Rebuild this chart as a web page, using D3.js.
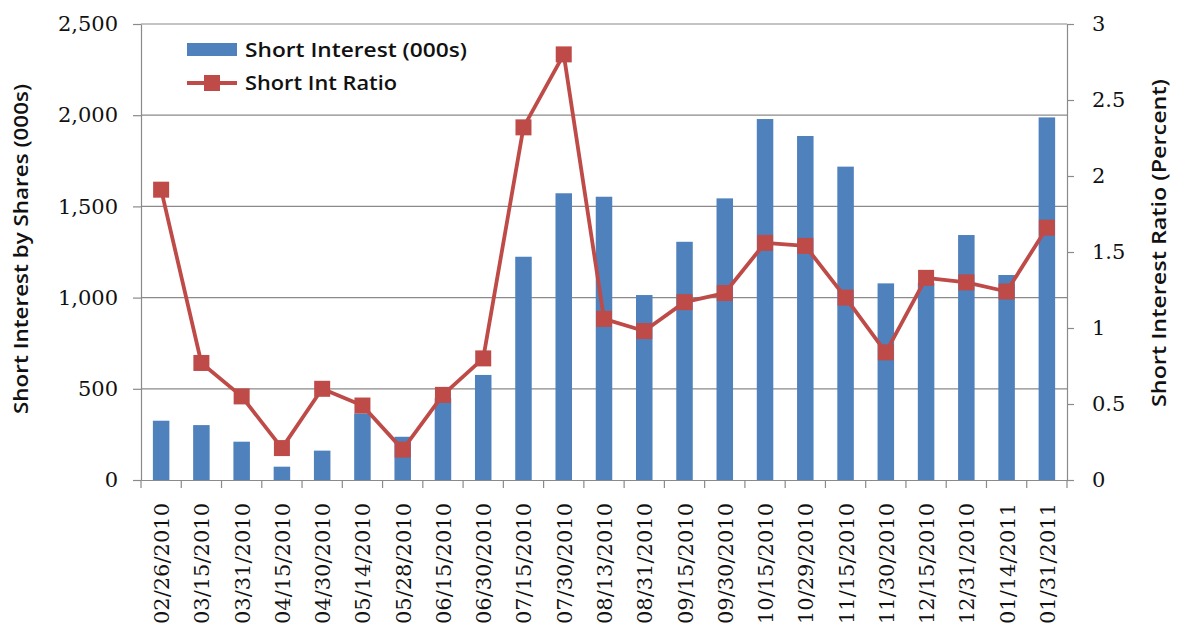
<!DOCTYPE html>
<html>
<head>
<meta charset="utf-8">
<script src="https://cdn.jsdelivr.net/npm/d3@7"></script>
<style>
  html, body { margin: 0; padding: 0; background: #fff; }
  svg { display: block; }
</style>
</head>
<body>
<svg id="chart" width="1177" height="634"></svg>
<script>
// Reporting dates (settlement dates)
const dates = [
  "02/26/2010", "03/15/2010", "03/31/2010", "04/15/2010", "04/30/2010",
  "05/14/2010", "05/28/2010", "06/15/2010", "06/30/2010", "07/15/2010",
  "07/30/2010", "08/13/2010", "08/31/2010", "09/15/2010", "09/30/2010",
  "10/15/2010", "10/29/2010", "11/15/2010", "11/30/2010", "12/15/2010",
  "12/31/2010", "01/14/2011", "01/31/2011"
];

// Short interest, thousands of shares
const shortInterest = [
  325, 301, 210, 73, 161,
  365, 237, 450, 576, 1224,
  1572, 1553, 1014, 1306, 1544,
  1979, 1886, 1718, 1078, 1080,
  1343, 1124, 1988
];

// Short interest ratio, percent
const shortRatio = [
  1.91, 0.77, 0.55, 0.21, 0.60,
  0.49, 0.20, 0.56, 0.80, 2.32,
  2.80, 1.06, 0.98, 1.17, 1.23,
  1.56, 1.54, 1.20, 0.84, 1.33,
  1.30, 1.24, 1.66
];

const leftTicks = [0, 500, 1000, 1500, 2000, 2500];
const rightTicks = [0, 0.5, 1, 1.5, 2, 2.5, 3];

const seriesNames = ["Short Interest (000s)", "Short Int Ratio"];
const axisTitles = ["Short Interest by Shares (000s)", "Short Interest Ratio (Percent)"];

const BLUE = "#4F81BD";
const RED = "#BE4B48";
const GRID = "#8a8a8a";
const tickFont = "'DejaVu Serif', 'Liberation Serif', serif";
const titleFont = "'Open Sans', 'Noto Sans', sans-serif";

const svg = d3.select("#chart");
const plot = { left: 141, right: 1067, top: 24, bottom: 480 };

const x = d3.scaleBand().domain(dates).range([plot.left, plot.right]).padding(0);
const yL = d3.scaleLinear().domain([0, 2500]).range([plot.bottom, plot.top]);
const yR = d3.scaleLinear().domain([0, 3]).range([plot.bottom, plot.top]);
const barW = x.bandwidth() * 0.41;
const cx = d => x(d) + x.bandwidth() / 2;

// Horizontal gridlines
svg.append("g").selectAll("line")
  .data(leftTicks.filter(v => v > 0))
  .join("line")
  .attr("x1", plot.left).attr("x2", plot.right)
  .attr("y1", d => yL(d)).attr("y2", d => yL(d))
  .attr("stroke", GRID).attr("stroke-width", 1.2);

// Bars
svg.append("g").selectAll("rect")
  .data(dates.map((d, i) => ({ d, v: shortInterest[i] })))
  .join("rect")
  .attr("x", p => cx(p.d) - barW / 2)
  .attr("width", barW)
  .attr("y", p => yL(p.v))
  .attr("height", p => yL(0) - yL(p.v))
  .attr("fill", BLUE);

function styleAxis(g) {
  g.select(".domain").attr("stroke", GRID).attr("stroke-width", 1.2);
  g.selectAll(".tick line").attr("stroke", GRID).attr("stroke-width", 1.2);
  g.selectAll(".tick text").attr("fill", "#111")
    .style("font-family", tickFont).style("font-size", "21px");
}

// Left axis
const gL = svg.append("g")
  .attr("transform", `translate(${plot.left},0)`)
  .call(d3.axisLeft(yL).tickValues(leftTicks).tickSize(8).tickPadding(15)
    .tickFormat(d3.format(",")).tickSizeOuter(0));
styleAxis(gL);

// Right axis
const gR = svg.append("g")
  .attr("transform", `translate(${plot.right},0)`)
  .call(d3.axisRight(yR).tickValues(rightTicks).tickSize(7).tickPadding(18)
    .tickFormat(d3.format("")).tickSizeOuter(0));
styleAxis(gR);

// Bottom axis: tick marks on category boundaries, labels rotated
const gB = svg.append("g")
  .attr("transform", `translate(0,${plot.bottom})`)
  .call(d3.axisBottom(x).tickSize(0).tickSizeOuter(0).tickPadding(0));
styleAxis(gB);
gB.selectAll(".tick text")
  .attr("transform", "rotate(-90)")
  .attr("text-anchor", "end")
  .attr("x", -23)
  .attr("y", 0)
  .attr("dy", "0.38em")
  .attr("dx", 0);
gB.selectAll(".boundary")
  .data(dates.concat([null]))
  .join("line")
  .attr("class", "boundary")
  .attr("x1", (d, i) => plot.left + i * x.step())
  .attr("x2", (d, i) => plot.left + i * x.step())
  .attr("y1", 0).attr("y2", 8)
  .attr("stroke", GRID).attr("stroke-width", 1.2);

// Ratio line with square markers
const line = d3.line()
  .x((v, i) => cx(dates[i]))
  .y(v => yR(v));
svg.append("path")
  .datum(shortRatio)
  .attr("d", line)
  .attr("fill", "none")
  .attr("stroke", RED)
  .attr("stroke-width", 3.8)
  .attr("stroke-linejoin", "round");

const mk = 16;
svg.append("g").selectAll("rect")
  .data(shortRatio)
  .join("rect")
  .attr("x", (v, i) => cx(dates[i]) - mk / 2)
  .attr("y", v => yR(v) - mk / 2)
  .attr("width", mk).attr("height", mk)
  .attr("fill", RED);

// Fit a text element to a target length
function fit(sel, len) {
  sel.attr("textLength", len).attr("lengthAdjust", "spacingAndGlyphs");
}

// Axis titles
const tl = svg.append("text")
  .attr("transform", `translate(28,249) rotate(-90)`)
  .attr("text-anchor", "middle")
  .style("font-family", titleFont).style("font-size", "19px").style("font-weight", 600)
  .attr("fill", "#111")
  .text(axisTitles[0]);
fit(tl, 330);

const tr = svg.append("text")
  .attr("transform", `translate(1166,243) rotate(-90)`)
  .attr("text-anchor", "middle")
  .style("font-family", titleFont).style("font-size", "19px").style("font-weight", 600)
  .attr("fill", "#111")
  .text(axisTitles[1]);
fit(tr, 328);

// Legend
const legend = svg.append("g");
legend.append("rect")
  .attr("x", 187).attr("y", 43).attr("width", 50).attr("height", 13)
  .attr("fill", BLUE);
legend.append("line")
  .attr("x1", 187).attr("x2", 237).attr("y1", 83).attr("y2", 83)
  .attr("stroke", RED).attr("stroke-width", 3.8);
legend.append("rect")
  .attr("x", 212 - mk / 2).attr("y", 83 - mk / 2).attr("width", mk).attr("height", mk)
  .attr("fill", RED);
const lt1 = legend.append("text")
  .attr("x", 245).attr("y", 50).attr("dy", "0.36em")
  .style("font-family", titleFont).style("font-size", "20px").style("font-weight", 600)
  .attr("fill", "#111")
  .text(seriesNames[0]);
fit(lt1, 222);
const lt2 = legend.append("text")
  .attr("x", 245).attr("y", 83).attr("dy", "0.36em")
  .style("font-family", titleFont).style("font-size", "20px").style("font-weight", 600)
  .attr("fill", "#111")
  .text(seriesNames[1]);
fit(lt2, 152);
</script>
</body>
</html>
